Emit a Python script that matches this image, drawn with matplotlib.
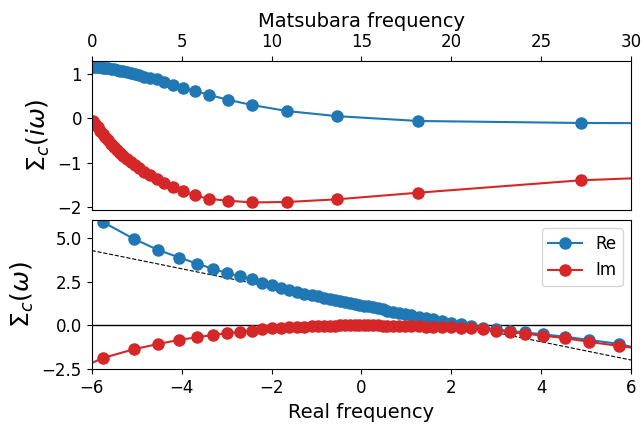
import matplotlib
matplotlib.use('Agg')
import matplotlib.pyplot as plt

# Matsubara axis (top panel)
iw = [0.06, 0.19, 0.33, 0.47, 0.61, 0.76, 0.91, 1.06, 1.22, 1.39, 1.57, 1.75,
      1.95, 2.17, 2.40, 2.65, 2.93, 3.24, 3.61, 4.04, 4.52, 5.06, 5.72, 6.54,
      7.56, 8.93, 10.85, 13.62, 18.16, 27.19, 40.0]
re_iw = [1.15, 1.15, 1.15, 1.15, 1.14, 1.14, 1.13, 1.12, 1.11, 1.09, 1.08, 1.06,
         1.04, 1.02, 1.00, 0.97, 0.94, 0.91, 0.88, 0.82, 0.76, 0.69, 0.62, 0.53,
         0.42, 0.30, 0.165, 0.05, -0.06, -0.105, -0.12]
im_iw = [-0.06, -0.13, -0.20, -0.28, -0.35, -0.43, -0.50, -0.57, -0.64, -0.71,
         -0.78, -0.85, -0.92, -0.99, -1.06, -1.13, -1.21, -1.29, -1.38, -1.47,
         -1.56, -1.65, -1.74, -1.82, -1.86, -1.90, -1.89, -1.83, -1.68, -1.40,
         -1.20]

# real axis (bottom panel)
w = [-6.6, -5.74, -5.07, -4.53, -4.05, -3.65, -3.30, -2.99, -2.70, -2.44, -2.21,
     -1.99, -1.79, -1.60, -1.43, -1.27, -1.11, -0.96, -0.83, -0.70, -0.58, -0.47,
     -0.36, -0.25, -0.15, -0.05, 0.05, 0.15, 0.25, 0.36, 0.47, 0.58, 0.70, 0.83,
     0.96, 1.11, 1.27, 1.43, 1.60, 1.79, 1.99, 2.21, 2.44, 2.70, 2.99, 3.30, 3.65,
     4.05, 4.53, 5.07, 5.74, 6.6]
re_w = [7.3, 5.88, 4.94, 4.31, 3.87, 3.51, 3.23, 2.98, 2.81, 2.62, 2.44,
        2.28, 2.16, 2.02, 1.93, 1.81, 1.72, 1.65, 1.58, 1.51, 1.45, 1.39,
        1.33, 1.27, 1.22, 1.17, 1.13, 1.08, 1.03, 0.97, 0.91, 0.85, 0.79, 0.72,
        0.66, 0.58, 0.50, 0.42, 0.34, 0.25, 0.16, 0.08, -0.03, -0.13, -0.23, -0.31, -0.40,
        -0.51, -0.64, -0.83, -1.05, -1.6]
im_w = [-2.8, -1.85, -1.36, -1.06, -0.82, -0.67, -0.54, -0.45, -0.36, -0.29, -0.23,
        -0.17, -0.13, -0.10, -0.08, -0.06, -0.04, -0.03, -0.02, -0.01, -0.01, 0.0,
        0.0, 0.0, 0.0, 0.0, 0.0, 0.0, 0.0, 0.0, -0.01, -0.01, -0.02, -0.02,
        -0.03, -0.04, -0.05, -0.06, -0.07, -0.09, -0.11, -0.14, -0.17, -0.22, -0.30, -0.38, -0.47,
        -0.59, -0.72, -0.94, -1.17, -1.48]

# linear approximation (dashed)
lin_a = 1.15
lin_b = -0.52

blue = '#1f77b4'
red = '#d62728'

fig = plt.figure(figsize=(6.44, 4.25), dpi=100)
ax1 = fig.add_axes([0.1424, 0.507, 0.8376, 0.350])
ax2 = fig.add_axes([0.1424, 0.131, 0.8376, 0.351])

ax1.plot(iw, re_iw, 'o-', color=blue, lw=1.5, ms=8)
ax1.plot(iw, im_iw, 'o-', color=red, lw=1.5, ms=8)
ax1.set_xlim(0, 30)
ax1.set_ylim(-2.06, 1.30)
ax1.xaxis.tick_top()
ax1.xaxis.set_label_position('top')
ax1.set_xlabel('Matsubara frequency', fontsize=14)
ax1.set_ylabel(r'$\Sigma_c(i\omega)$', fontsize=18)
ax1.tick_params(labelsize=12)

xs = [-6, 6]
ax2.plot(xs, [lin_a + lin_b * x for x in xs], '--', color='k', lw=0.8)
ax2.axhline(0, color='k', lw=1)
ax2.plot(w, re_w, 'o-', color=blue, lw=1.5, ms=8, label='Re')
ax2.plot(w, im_w, 'o-', color=red, lw=1.5, ms=8, label='Im')
ax2.set_xlim(-6, 6)
ax2.set_ylim(-2.5, 6.0)
ax2.set_yticks([-2.5, 0.0, 2.5, 5.0])
ax2.set_xlabel('Real frequency', fontsize=14)
ax2.set_ylabel(r'$\Sigma_c(\omega)$', fontsize=18)
ax2.tick_params(labelsize=12)
ax2.legend(loc='upper right', fontsize=12)

fig.savefig('out.png', dpi=100)
